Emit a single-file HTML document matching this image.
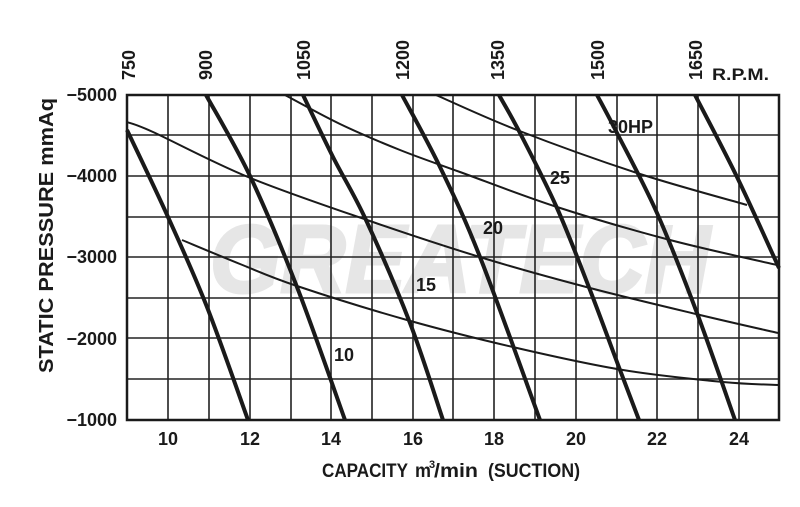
<!DOCTYPE html>
<html><head><meta charset="utf-8"><style>
html,body{margin:0;padding:0;background:#fff;}
svg{display:block;font-family:"Liberation Sans",sans-serif;}
</style></head><body>
<svg id="s" width="800" height="507" viewBox="0 0 800 507" xmlns="http://www.w3.org/2000/svg">
<text x="460" y="292" text-anchor="middle" font-size="96" font-weight="bold" font-style="italic" fill="#e6e6e6" stroke="#e6e6e6" stroke-width="3" textLength="500" lengthAdjust="spacingAndGlyphs">GREATECH</text>
<g stroke="#222" stroke-width="1.6" fill="none">
<line x1="168" y1="95" x2="168" y2="420"/><line x1="209" y1="95" x2="209" y2="420"/><line x1="250" y1="95" x2="250" y2="420"/><line x1="291" y1="95" x2="291" y2="420"/><line x1="331" y1="95" x2="331" y2="420"/><line x1="372" y1="95" x2="372" y2="420"/><line x1="413" y1="95" x2="413" y2="420"/><line x1="453" y1="95" x2="453" y2="420"/><line x1="494" y1="95" x2="494" y2="420"/><line x1="535" y1="95" x2="535" y2="420"/><line x1="576" y1="95" x2="576" y2="420"/><line x1="617" y1="95" x2="617" y2="420"/><line x1="657" y1="95" x2="657" y2="420"/><line x1="698" y1="95" x2="698" y2="420"/><line x1="739" y1="95" x2="739" y2="420"/>
<line x1="127" y1="135" x2="779" y2="135"/><line x1="127" y1="176" x2="779" y2="176"/><line x1="127" y1="217" x2="779" y2="217"/><line x1="127" y1="257" x2="779" y2="257"/><line x1="127" y1="298" x2="779" y2="298"/><line x1="127" y1="338" x2="779" y2="338"/><line x1="127" y1="379" x2="779" y2="379"/>
</g>
<rect x="127" y="95" width="652" height="325" fill="none" stroke="#1a1a1a" stroke-width="2.5"/>
<g id="thin" stroke="#1a1a1a" stroke-width="2" fill="none"></g>
<g id="thick" stroke="#1a1a1a" stroke-width="4" fill="none"></g>
<g font-size="18" font-weight="bold" fill="#1a1a1a" text-anchor="end">
<text x="117" y="101">−5000</text><text x="117" y="182">−4000</text><text x="117" y="263">−3000</text><text x="117" y="345">−2000</text><text x="117" y="426">−1000</text>
</g>
<g font-size="18" font-weight="bold" fill="#1a1a1a" text-anchor="middle">
<text x="168" y="445">10</text><text x="250" y="445">12</text><text x="331" y="445">14</text><text x="413" y="445">16</text><text x="494" y="445">18</text><text x="576" y="445">20</text><text x="657" y="445">22</text><text x="739" y="445">24</text>
</g>
<g font-size="18" font-weight="bold" fill="#1a1a1a">
<text transform="translate(135,80) rotate(-90)">750</text>
<text transform="translate(212,80) rotate(-90)">900</text>
<text transform="translate(310,80) rotate(-90)">1050</text>
<text transform="translate(409,80) rotate(-90)">1200</text>
<text transform="translate(504,80) rotate(-90)">1350</text>
<text transform="translate(604,80) rotate(-90)">1500</text>
<text transform="translate(702,80) rotate(-90)">1650</text>
<text x="712" y="80" font-size="17" textLength="57" lengthAdjust="spacingAndGlyphs">R.P.M.</text>
<text x="334" y="361">10</text>
<text x="416" y="291">15</text>
<text x="483" y="234">20</text>
<text x="550" y="184">25</text>
<text x="608" y="133">30HP</text>
</g>
<g font-size="19" fill="#1a1a1a" font-weight="bold">
<text x="322" y="477" textLength="86" lengthAdjust="spacingAndGlyphs">CAPACITY</text>
<text x="415" y="477" textLength="16" lengthAdjust="spacingAndGlyphs">m</text>
<text x="429" y="468" font-size="11">3</text>
<text x="434" y="477" textLength="44" lengthAdjust="spacingAndGlyphs">/min</text>
<text x="488" y="477" textLength="92" lengthAdjust="spacingAndGlyphs">(SUCTION)</text>
<text transform="translate(53,373) rotate(-90)" font-size="20" textLength="275" lengthAdjust="spacingAndGlyphs">STATIC  PRESSURE  mmAq</text>
</g>
</svg>
<script>
function cr(p){var d="M"+p[0][0]+","+p[0][1];for(var i=0;i<p.length-1;i++){var p0=p[i-1]||p[i],p1=p[i],p2=p[i+1],p3=p[i+2]||p2;
d+=" C"+(p1[0]+(p2[0]-p0[0])/6)+","+(p1[1]+(p2[1]-p0[1])/6)+" "+(p2[0]-(p3[0]-p1[0])/6)+","+(p2[1]-(p3[1]-p1[1])/6)+" "+p2[0]+","+p2[1];}return d;}
var thick=[
[[127,130],[168,217],[207,307],[248,420]],
[[206,95],[250,176],[297,287],[345,420]],
[[303,95],[333,157],[366,220],[410,323],[443,420]],
[[402,95],[440,167],[480,257],[540,420]],
[[499,95],[520,133],[557,208],[590,290],[620,370],[639,420]],
[[597,95],[617,133],[657,213],[697,313],[735,420]],
[[695,95],[737,177],[779,268]]];
var thin=[
[[182,240],[240,264],[297,286],[407,320],[517,348],[623,370],[723,382],[778,385]],
[[127,122],[153,132],[248,177],[367,220],[483,258],[590,288],[700,315],[778,333]],
[[285,95],[340,124],[400,150],[460,172],[557,207],[670,240],[777,265]],
[[436,95],[517,130],[637,173],[747,205]]];
var ns="http://www.w3.org/2000/svg";
function add(g,arr){var G=document.getElementById(g);arr.forEach(function(p){var e=document.createElementNS(ns,"path");e.setAttribute("d",cr(p));G.appendChild(e);});}
add("thin",thin);add("thick",thick);
</script>
</body></html>
